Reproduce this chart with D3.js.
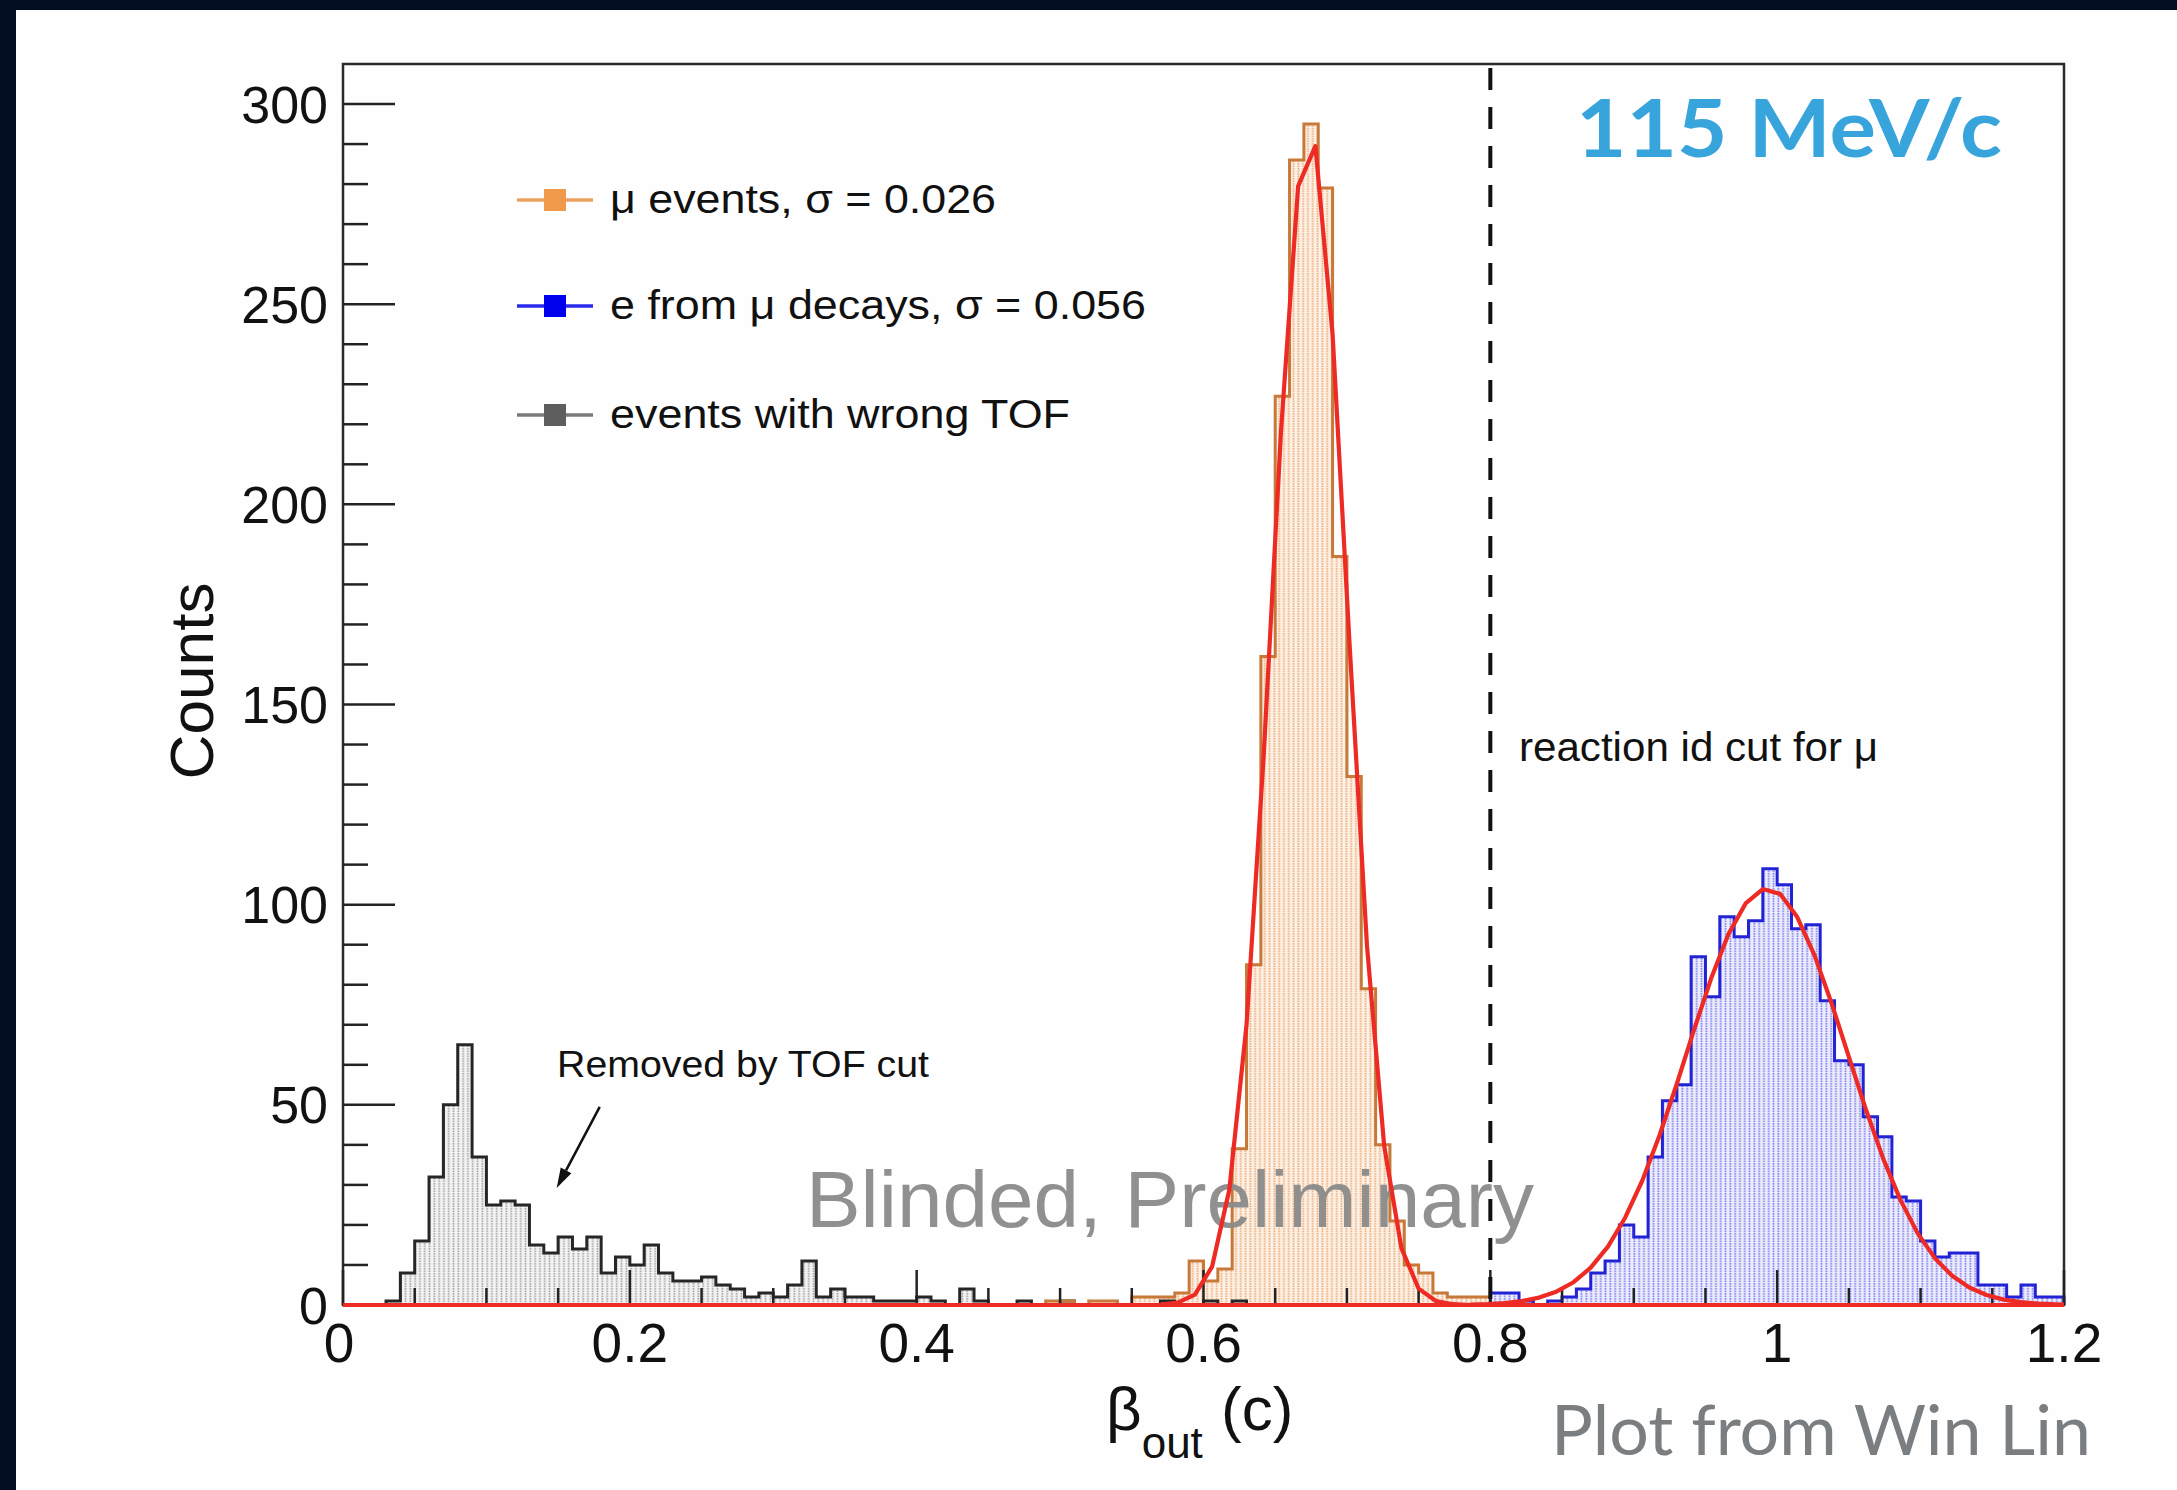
<!DOCTYPE html>
<html><head><meta charset="utf-8">
<script src="https://cdn.jsdelivr.net/npm/d3@7"></script>
<style>
html,body{margin:0;padding:0;background:#fefefe;overflow:hidden;}
svg{display:block;}
</style></head><body>
<svg id="chart" width="2177" height="1490"></svg>
<script>
// ---------------- data ----------------
const binWidth = 0.01;

// events with wrong TOF (grey), bins starting at 0.00
const tofFirstBin = 0.00;
const tofCounts = [0,0,0,1,8,16,32,50,65,37,25,26,25,15,13,17,14,17,8,12,10,15,8,6,6,7,5,4,2,3,2,5,11,2,4,2,2,1,1,1,2,1,0,4,1,0,0,1,0,0,1,0,0,0,0,0,0,1,0,0,1,0,1];

// mu events (orange), bins starting at 0.47
const muFirstBin = 0.47;
const muCounts = [0,0,1,1,0,1,1,0,2,2,2,3,11,6,9,39,85,162,227,286,295,279,187,132,79,40,21,10,8,3,2,2,2];

// e from mu decays (blue), bins starting at 0.80
const eFirstBin = 0.80;
const eCounts = [3,3,1,0,1,2,4,8,11,20,17,37,51,55,87,77,97,92,96,109,105,94,95,76,61,60,47,42,27,26,16,12,13,13,5,5,2,5,2,2];

// fitted curves (red)
const muFitX = [0.570,0.582,0.594,0.606,0.618,0.630,0.642,0.654,0.666,0.678,0.690,0.702,0.714,0.726,0.738,0.750,0.762,0.774,0.786];
const muFitY = [0.1,0.6,2.6,9.6,28.8,70.0,137.4,218.0,279.5,289.5,242.5,164.1,89.7,39.7,14.2,4.1,1.0,0.2,0.0];
const eFitX = [0.786,0.798,0.810,0.822,0.834,0.846,0.858,0.870,0.882,0.894,0.906,0.918,0.930,0.942,0.954,0.966,0.978,0.990,1.002,1.014,1.026,1.038,1.050,1.062,1.074,1.086,1.098,1.110,1.122,1.134,1.146,1.158,1.170,1.182,1.194,1.200];
const eFitY = [0.1,0.24,0.50,0.98,1.85,3.32,5.69,9.32,14.6,21.8,31.1,42.4,55.2,68.7,81.6,92.6,100.3,103.9,102.7,96.9,87.4,75.3,62.0,48.7,36.5,26.2,17.9,11.7,7.3,4.37,2.49,1.35,0.70,0.35,0.17,0.12];

const cutValue = 0.8;
const xDomain = [0, 1.2];
const yDomain = [0, 310];
const xMajorTicks = [0,0.2,0.4,0.6,0.8,1,1.2];
const xTickLabels = ["0","0.2","0.4","0.6","0.8","1","1.2"];
const yMajorTicks = [0,50,100,150,200,250,300];
const yTickLabels = ["0","50","100","150","200","250","300"];
const legendLabels = ["\u03bc events, \u03c3 = 0.026","e from \u03bc decays, \u03c3 = 0.056","events with wrong TOF"];
const arrowFrom = [0.179, 49.5];
const arrowTo = [0.149, 29.2];

// ---------------- drawing ----------------
const svg = d3.select("#chart");
const W = 2177, H = 1490;
const L = 343, R = 2064, T = 64, B = 1305;
const x = d3.scaleLinear().domain(xDomain).range([L, R]);
const y = d3.scaleLinear().domain(yDomain).range([B, T]);
const ROOTFONT = "'Liberation Sans', Arial, Helvetica, sans-serif";

svg.append("rect").attr("width", W).attr("height", H).attr("fill", "#fefefe");
svg.append("rect").attr("x",0).attr("y",0).attr("width",W).attr("height",10).attr("fill","#020d22");
svg.append("rect").attr("x",0).attr("y",0).attr("width",16).attr("height",H).attr("fill","#020d22");

const defs = svg.append("defs");
function dotPattern(id, bg, dot) {
  const p = defs.append("pattern").attr("id", id).attr("patternUnits","userSpaceOnUse")
    .attr("width", 4.8).attr("height", 5);
  p.append("rect").attr("width",4.8).attr("height",5).attr("fill",bg);
  p.append("rect").attr("x",1.5).attr("y",0.5).attr("width",1.7).attr("height",1.7).attr("fill",dot);
  p.append("rect").attr("x",1.5).attr("y",3.0).attr("width",1.7).attr("height",1.7).attr("fill",dot);
}
dotPattern("patGray", "#f4f4f4", "#a8a8a8");
dotPattern("patOrange", "#fcf1e7", "#efb07c");
dotPattern("patBlue", "#ededfc", "#8484f0");

function stepPoints(first, counts) {
  const pts = [[first, 0]];
  counts.forEach((c, i) => {
    const x0 = first + i * binWidth;
    pts.push([x0, c], [x0 + binWidth, c]);
  });
  pts.push([first + counts.length * binWidth, 0]);
  return pts;
}
const line = d3.line().x(d => x(d[0])).y(d => y(d[1]));

const hists = [
  {first: tofFirstBin, counts: tofCounts, fill: "url(#patGray)", stroke: "#262626"},
  {first: muFirstBin, counts: muCounts, fill: "url(#patOrange)", stroke: "#c7793a"},
  {first: eFirstBin, counts: eCounts, fill: "url(#patBlue)", stroke: "#2323d6"}
];
const gH = svg.append("g");
hists.forEach(h => {
  const pts = stepPoints(h.first, h.counts);
  gH.append("path").attr("d", line(pts) + "Z").attr("fill", h.fill).attr("stroke", "none");
});
hists.forEach(h => {
  const pts = stepPoints(h.first, h.counts);
  gH.append("path").attr("d", line(pts)).attr("fill", "none").attr("stroke", h.stroke)
    .attr("stroke-width", 3).attr("stroke-linejoin","miter");
});

// watermark
svg.append("text").attr("x", 806).attr("y", 1227).attr("font-family", ROOTFONT)
  .attr("font-size", 80).attr("fill", "#8a8a8a").attr("fill-opacity", 0.95)
  .attr("textLength", 728).attr("lengthAdjust", "spacingAndGlyphs")
  .text("Blinded, Preliminary");

// axes frame and ticks
const gA = svg.append("g").attr("stroke", "#222").attr("stroke-width", 2.5);
gA.append("rect").attr("x", L).attr("y", T).attr("width", R - L).attr("height", B - T)
  .attr("fill", "none").attr("stroke", "#2b2b2b");
d3.range(0, 301, 10).forEach(v => {
  const major = v % 50 === 0;
  gA.append("line").attr("x1", L).attr("x2", L + (major ? 52 : 25)).attr("y1", y(v)).attr("y2", y(v));
});
d3.range(0, 25).forEach(i => {
  const v = i * 0.05;
  const major = i % 4 === 0;
  gA.append("line").attr("x1", x(v)).attr("x2", x(v)).attr("y1", B).attr("y2", B - (major ? 35 : 17));
});

// fit curves
const gF = svg.append("g").attr("fill","none").attr("stroke","#ee2a24").attr("stroke-width",4.2)
  .attr("stroke-linejoin","round");
gF.append("path").attr("d", line([[xDomain[0],0],[xDomain[1],0]]));
gF.append("path").attr("d", line(muFitX.map((v,i)=>[v, muFitY[i]])));
gF.append("path").attr("d", line(eFitX.map((v,i)=>[v, eFitY[i]])));

// cut line
svg.append("line").attr("x1", x(cutValue)).attr("x2", x(cutValue)).attr("y1", T + 4).attr("y2", B)
  .attr("stroke", "#111").attr("stroke-width", 4).attr("stroke-dasharray", "22,17");

// tick labels
const gL = svg.append("g").attr("font-family", ROOTFONT).attr("fill", "#111");
yMajorTicks.forEach((v, i) => {
  gL.append("text").attr("x", 328).attr("y", y(v) + 18.5).attr("text-anchor", "end")
    .attr("font-size", 52).text(yTickLabels[i]);
});
xMajorTicks.forEach((v, i) => {
  gL.append("text").attr("x", x(v) - (i === 0 ? 4 : 0)).attr("y", 1362).attr("text-anchor", "middle")
    .attr("font-size", 55).text(xTickLabels[i]);
});

// axis titles
gL.append("text").attr("transform", "translate(213,681) rotate(-90)").attr("text-anchor", "middle")
  .attr("font-size", 62).attr("textLength", 197).attr("lengthAdjust","spacingAndGlyphs").text("Counts");
const xt = gL.append("text").attr("x", 1106).attr("y", 1430).attr("font-size", 62);
xt.append("tspan").text("\u03b2");
xt.append("tspan").attr("font-size", 44).attr("dy", 28).text("out");
xt.append("tspan").attr("x", 1221).attr("dy", -28).text("(c)");

// legend
const legendColors = [
  {line: "#eba261", marker: "#ef9a4a"},
  {line: "#2a2aee", marker: "#0000ee"},
  {line: "#7a7a7a", marker: "#5e5e5e"}
];
const legendY = [200, 306, 415];
const legendLen = [386, 536, 460];
legendLabels.forEach((lab, i) => {
  const cy = legendY[i];
  svg.append("line").attr("x1", 517).attr("x2", 593).attr("y1", cy).attr("y2", cy)
    .attr("stroke", legendColors[i].line).attr("stroke-width", 3.5);
  svg.append("rect").attr("x", 544).attr("y", cy - 11).attr("width", 22).attr("height", 22)
    .attr("fill", legendColors[i].marker);
  svg.append("text").attr("x", 610).attr("y", cy + 13).attr("font-family", ROOTFONT)
    .attr("font-size", 40).attr("fill", "#111").attr("textLength", legendLen[i])
    .attr("lengthAdjust", "spacingAndGlyphs").text(lab);
});

// annotations
svg.append("text").attr("x", 557).attr("y", 1077).attr("font-family", ROOTFONT).attr("font-size", 37)
  .attr("fill", "#111").attr("textLength", 372).attr("lengthAdjust","spacingAndGlyphs").text("Removed by TOF cut");
{
  const x1 = x(arrowFrom[0]), y1 = y(arrowFrom[1]), x2 = x(arrowTo[0]), y2 = y(arrowTo[1]);
  const ang = Math.atan2(y2 - y1, x2 - x1);
  const hl = 20, hw = 6;
  const bx = x2 - hl * Math.cos(ang), by = y2 - hl * Math.sin(ang);
  svg.append("line").attr("x1", x1).attr("y1", y1).attr("x2", bx).attr("y2", by)
    .attr("stroke", "#111").attr("stroke-width", 2.5);
  const p = [[x2, y2], [bx + hw * Math.sin(ang), by - hw * Math.cos(ang)], [bx - hw * Math.sin(ang), by + hw * Math.cos(ang)]];
  svg.append("path").attr("d", "M" + p.map(q => q.join(",")).join("L") + "Z").attr("fill", "#111");
}
svg.append("text").attr("x", 1519).attr("y", 761).attr("font-family", ROOTFONT).attr("font-size", 40)
  .attr("fill", "#111").attr("textLength", 359).attr("lengthAdjust","spacingAndGlyphs").text("reaction id cut for \u03bc");

svg.append("text").attr("x", 1576).attr("y", 157).attr("font-family", "Lato, 'Open Sans', sans-serif")
  .attr("font-weight", 700).attr("font-size", 80).attr("fill", "#37a5dc")
  .attr("textLength", 426).attr("lengthAdjust","spacingAndGlyphs").text("115 MeV/c");
svg.append("text").attr("x", 1551).attr("y", 1455).attr("font-family", "Lato, 'Open Sans', sans-serif")
  .attr("font-size", 70).attr("fill", "#7b7e80")
  .attr("textLength", 540).attr("lengthAdjust","spacingAndGlyphs").text("Plot from Win Lin");
</script>
</body></html>
